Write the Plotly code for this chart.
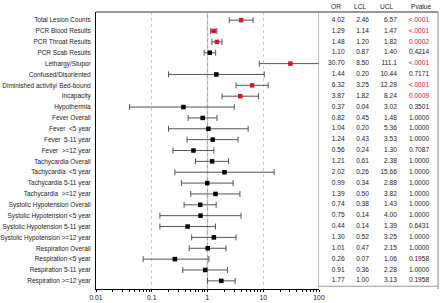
import plotly.graph_objects as go

labels = ["Total Lesion Counts", "PCR Blood Results", "PCR Throat Results", "PCR Scab Results",
          "Lethargy/Stupor", "Confused/Disoriented", "Diminished activity/ Bed-bound", "Incapacity",
          "Hypothermia", "Fever Overall", "Fever  <5 year", "Fever  5-11 year", "Fever  >=12 year",
          "Tachycardia Overall", "Tachycardia  <5 year", "Tachycardia 5-11 year", "Tachycardia  >=12 year",
          "Systolic Hypotension Overall", "Systolic Hypotension <5 year", "Systolic Hypotension 5-11 year",
          "Systolic Hypotension >=12 year", "Respiration Overall", "Respiration <5 year",
          "Respiration 5-11 year", "Respiration >=12 year"]
OR = [4.02, 1.29, 1.48, 1.10, 30.70, 1.44, 6.32, 3.87, 0.37, 0.82, 1.04, 1.24, 0.56, 1.21, 2.02,
      0.99, 1.39, 0.74, 0.75, 0.44, 1.30, 1.01, 0.26, 0.91, 1.77]
LCL = [2.46, 1.14, 1.20, 0.87, 8.50, 0.20, 3.25, 1.82, 0.04, 0.45, 0.20, 0.43, 0.24, 0.61, 0.26,
       0.34, 0.50, 0.38, 0.14, 0.14, 0.52, 0.47, 0.07, 0.36, 1.00]
UCL = [6.57, 1.47, 1.82, 1.40, 111.1, 10.44, 12.28, 8.24, 3.02, 1.48, 5.36, 3.53, 1.30, 2.38, 15.66,
       2.88, 3.82, 1.43, 4.00, 1.39, 3.25, 2.15, 1.06, 2.28, 3.13]
PVAL = ["<.0001", "<.0001", "0.0002", "0.4214", "<.0001", "0.7171", "<.0001", "0.0009", "0.3501",
        "1.0000", "1.0000", "1.0000", "0.7087", "1.0000", "1.0000", "1.0000", "1.0000", "1.0000",
        "1.0000", "0.6431", "1.0000", "1.0000", "0.1958", "1.0000", "0.1958"]
SIG = [True, True, True, False, True, False, True, True] + [False] * 17
UCL_TXT = ["6.57", "1.47", "1.82", "1.40", "111.1", "10.44", "12.28", "8.24", "3.02", "1.48", "5.36",
           "3.53", "1.30", "2.38", "15.66", "2.88", "3.82", "1.43", "4.00", "1.39", "3.25", "2.15",
           "1.06", "2.28", "3.13"]
HEADERS = ["OR", "LCL", "UCL", "Pvalue"]
XTICKS = [0.01, 0.1, 1, 10, 100]

RED = "#e8101a"
TXT = "#222222"
FONT = "Liberation Sans, Arial, sans-serif"
FS = 6.6
idx = list(range(len(labels)))
colors = [RED if s else "black" for s in SIG]

fig = go.Figure()
fig.add_trace(go.Scatter(
    x=OR, y=idx, mode="markers",
    marker=dict(symbol="square", size=4.5, color=colors),
    error_x=dict(type="data", symmetric=False,
                 array=[u - o for u, o in zip(UCL, OR)],
                 arrayminus=[o - l for o, l in zip(OR, LCL)],
                 color="#555555", thickness=1, width=3),
    xaxis="x", yaxis="y", showlegend=False, hoverinfo="skip"))

col_x = [0.215, 0.42, 0.655, 0.925]
cols = [[f"{v:.2f}" for v in OR], [f"{v:.2f}" for v in LCL], UCL_TXT, PVAL]
for j, (cx, vals) in enumerate(zip(col_x, cols)):
    tcolors = [RED if (j == 3 and s) else TXT for s in SIG]
    fig.add_trace(go.Scatter(
        x=[cx] * len(vals), y=idx, mode="text", text=vals,
        textposition="middle left",
        textfont=dict(family=FONT, size=FS, color=tcolors),
        xaxis="x2", yaxis="y", showlegend=False, hoverinfo="skip", cliponaxis=False))

hdr_x = [0.14, 0.345, 0.57, 0.855]
annotations = []
for h, hx in zip(HEADERS, hdr_x):
    annotations.append(dict(text=h, x=hx, xref="x2", y=1.0, yref="paper", yanchor="bottom",
                            yshift=0, showarrow=False,
                            font=dict(family=FONT, size=FS, color=TXT)))

minor_vals = [m * 10 ** k for k in range(-2, 2) for m in range(2, 10)]
split = (319 - 96) / (438 - 96)

fig.update_layout(
    width=440, height=303,
    margin=dict(l=96, r=2, t=12, b=14, autoexpand=False),
    paper_bgcolor="white", plot_bgcolor="white",
    font=dict(family=FONT, size=FS, color=TXT),
    xaxis=dict(type="log", domain=[0, split], range=[-2, 2], automargin=False,
               tickmode="array", tickvals=XTICKS, ticktext=["0.01", "0.1", "1", "10", "100"],
               showgrid=True, gridcolor="#cccccc", griddash="dot", gridwidth=1,
               showline=True, linecolor="black", linewidth=1,
               ticks="outside", ticklen=2, tickcolor="black",
               minor=dict(tickmode="array", tickvals=minor_vals, ticks="outside", ticklen=2,
                          tickcolor="black", showgrid=False),
               zeroline=False, tickfont=dict(size=6.8, color=TXT), anchor="y"),
    xaxis2=dict(domain=[split, 1], range=[0, 1], showgrid=False, showticklabels=False,
                zeroline=False, showline=False, anchor="y", automargin=False),
    yaxis=dict(range=[24.75, -0.75], tickmode="array", tickvals=idx, ticktext=labels,
               automargin=False,
               showgrid=False, zeroline=False, showline=True, linecolor="black", linewidth=1,
               ticks="", tickfont=dict(size=6.45, color=TXT), ticklabelstandoff=3),
    annotations=annotations,
    shapes=[
        dict(type="line", xref="x", yref="paper", x0=1, x1=1, y0=0, y1=1,
             line=dict(color="#aaaaaa", width=1.2), layer="below"),
        dict(type="line", xref="x", yref="paper", x0=100, x1=100, y0=0, y1=1,
             line=dict(color="#999999", width=1.2)),
        dict(type="line", xref="paper", yref="paper", x0=0, x1=1, y0=1, y1=1,
             line=dict(color="#999999", width=1.8)),
        dict(type="line", xref="paper", yref="paper", x0=1, x1=1, y0=0, y1=1,
             line=dict(color="#999999", width=1.2)),
        dict(type="line", xref="paper", yref="paper", x0=split, x1=1, y0=0.01, y1=0.01,
             line=dict(color="#999999", width=1.2)),
    ],
)

fig.write_html("out.html", config={"displayModeBar": False},
               post_script="document.body.style.margin='0';")
